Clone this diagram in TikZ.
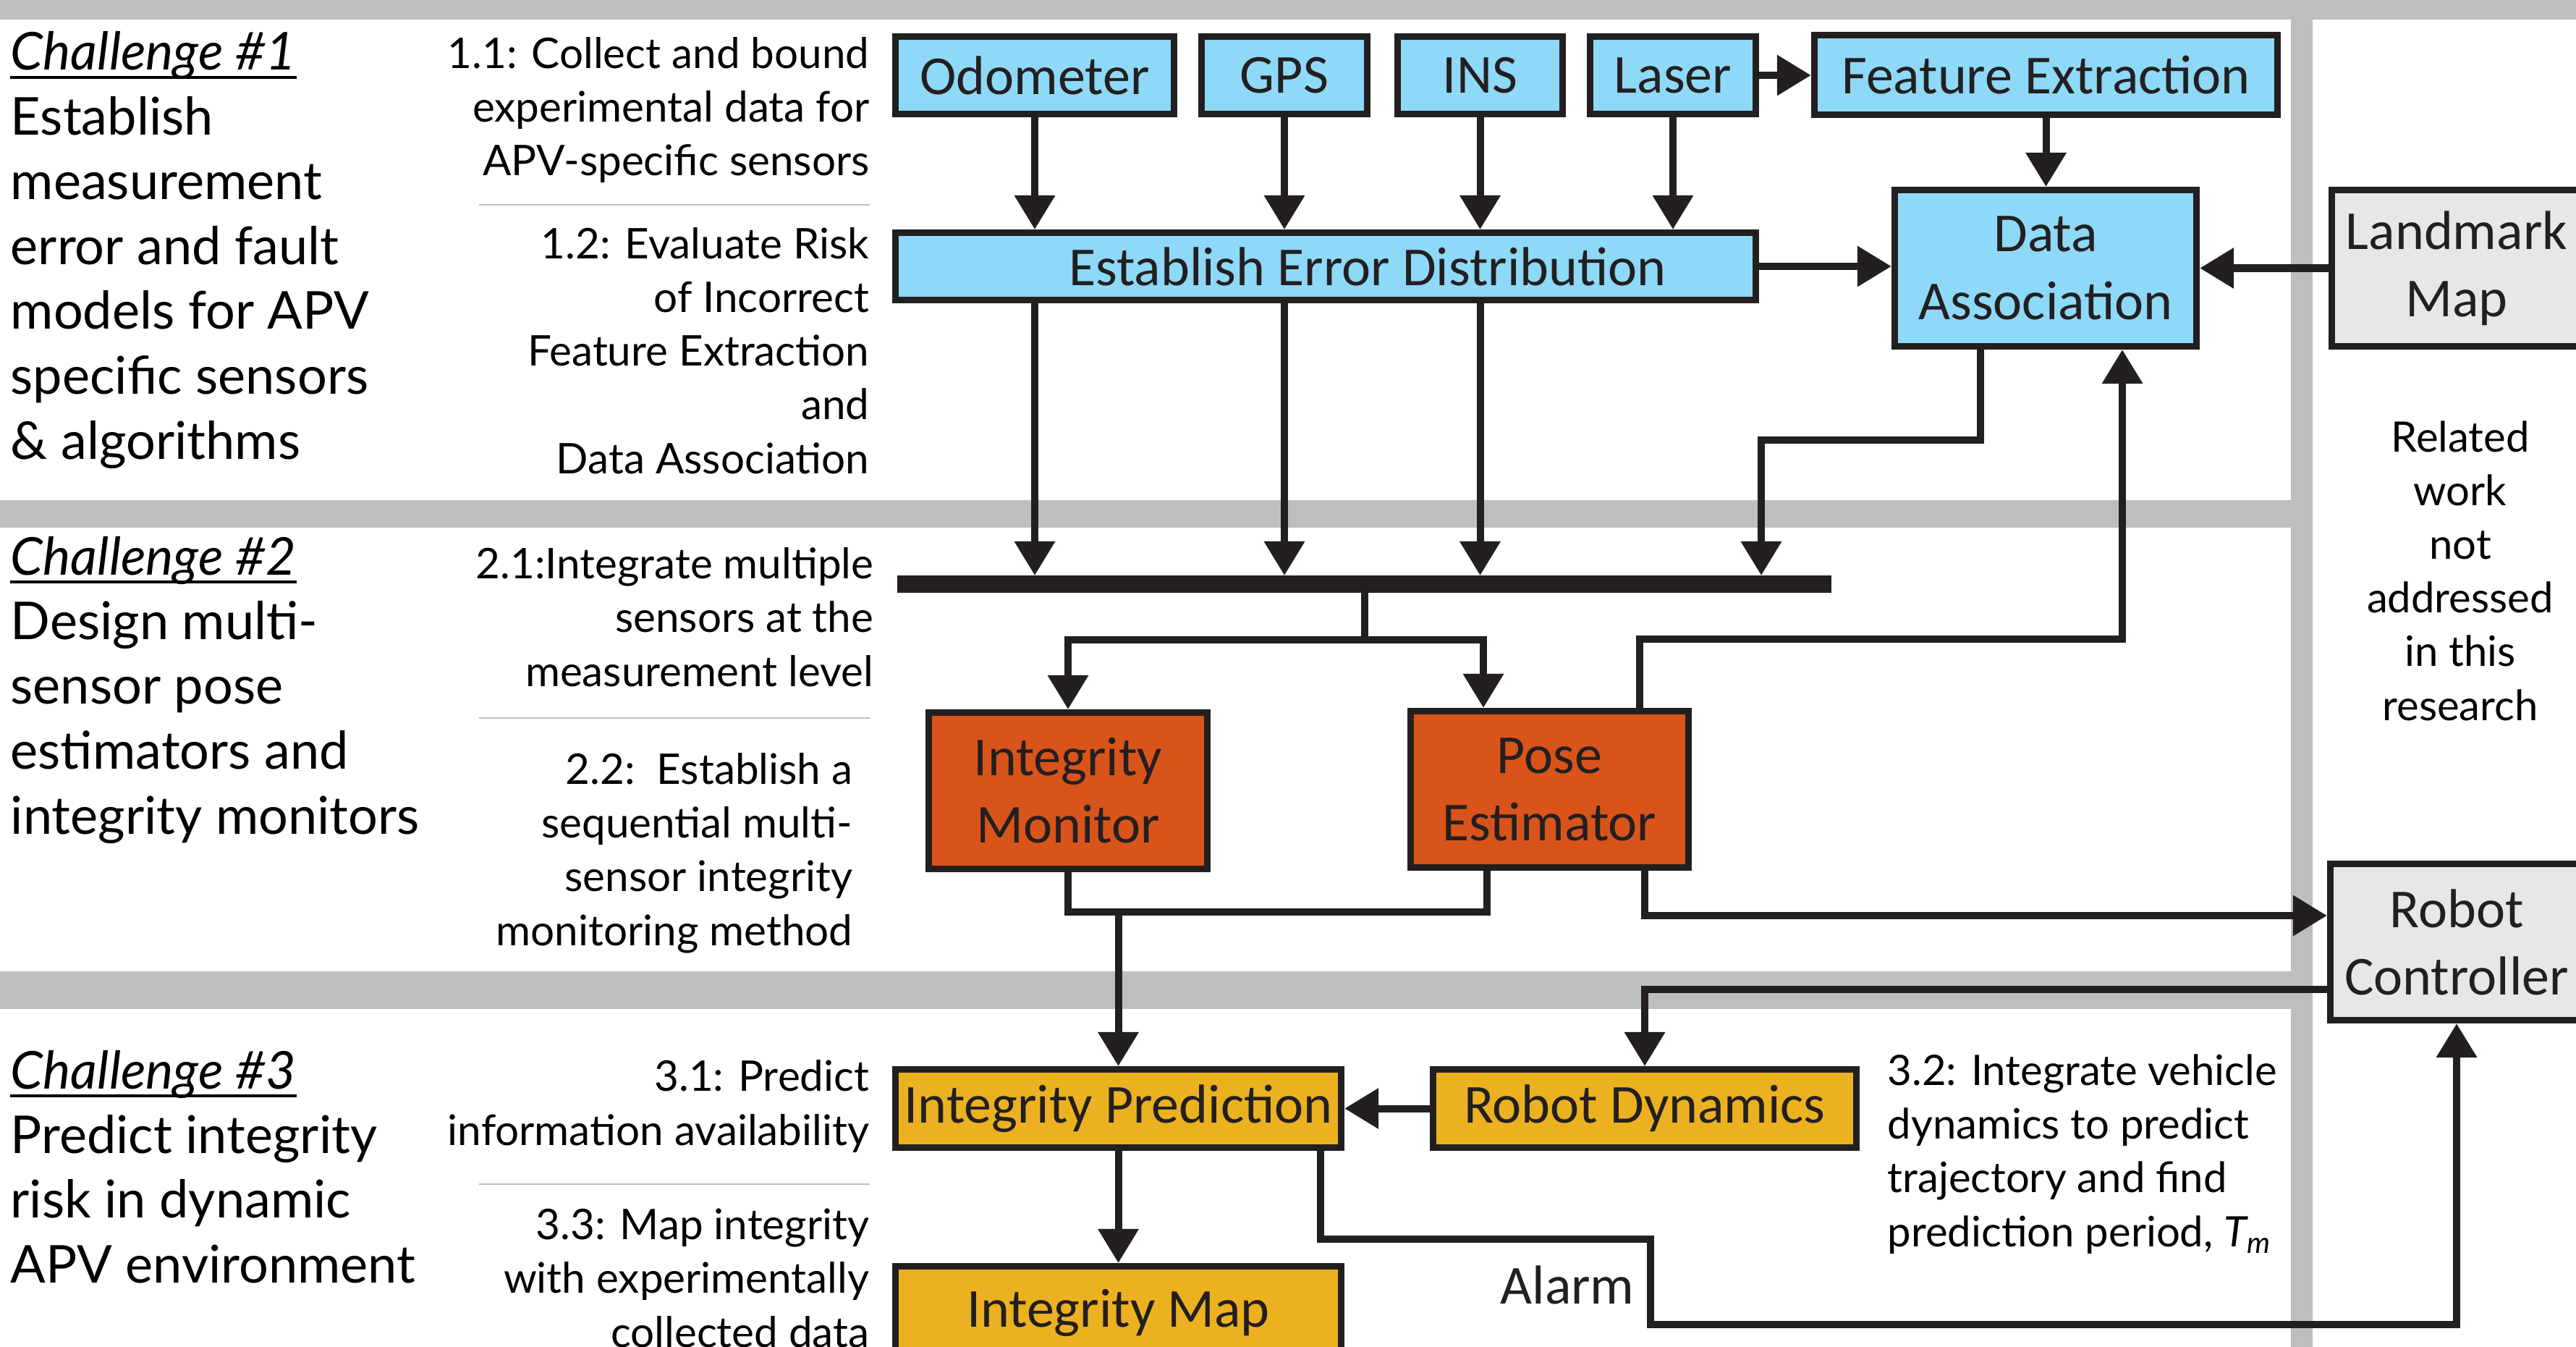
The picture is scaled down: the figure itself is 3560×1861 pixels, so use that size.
\documentclass[tikz,border=0pt]{standalone}
\usepackage{fontspec}
\setmainfont{Carlito}
\newfontfamily\humanist{Lato}
\usetikzlibrary{arrows.meta}
\definecolor{band}{HTML}{BCBEC0}
\definecolor{skyfill}{HTML}{8ED8F8}
\definecolor{rustfill}{HTML}{D9541A}
\definecolor{goldfill}{HTML}{ECB120}
\definecolor{greyfill}{HTML}{E6E7E8}
\definecolor{ink}{HTML}{231F20}
\tikzset{
  box/.style={draw=ink, line width=0.09cm, inner sep=0pt, align=center, text=ink,
    font=\fontsize{21.6}{26.5}\selectfont},
  sky/.style={box, fill=skyfill},
  rust/.style={box, fill=rustfill},
  gold/.style={box, fill=goldfill},
  grey/.style={box, fill=greyfill},
  conn/.style={draw=ink, line width=0.1cm},
  arr/.style={conn, -{Triangle[length=0.47cm, width=0.54cm]}},
  heading/.style={font=\humanist\itshape\fontsize{20.5}{25.46}\selectfont, anchor=base west, inner sep=0pt},
  bodytxt/.style={font=\humanist\fontsize{20.5}{25.46}\selectfont, align=left, anchor=base west, inner sep=0pt},
  task/.style={font=\humanist\fontsize{16.6}{21.05}\selectfont, align=right, anchor=base east, inner sep=0pt},
  note/.style={font=\humanist\fontsize{16.5}{21.05}\selectfont, inner sep=0pt},
  sepline/.style={draw=band, line width=0.02cm},
  ul/.style={draw=black, line width=0.045cm},
}
\begin{document}
\begin{tikzpicture}[x=0.01cm, y=-0.01cm]
\useasboundingbox (0,0) rectangle (3560,1861);
\clip (0,0) rectangle (3560,1861);
% grey frame with white panels for the three challenges and the side column
\fill[band] (0,0) rectangle (3560,1861);
\fill[white] (0,27) rectangle (3166,691);
\fill[white] (0,729) rectangle (3166,1342);
\fill[white] (0,1394) rectangle (3166,1861);
\fill[white] (3196,27) rectangle (3560,1861);

% sensor row
\node[sky, minimum width=3.85cm, minimum height=1.07cm] (odo) at (1430,104) {Odometer};
\node[sky, minimum width=2.29cm, minimum height=1.07cm] (gps) at (1775,104) {GPS};
\node[sky, minimum width=2.28cm, minimum height=1.07cm] (ins) at (2045.5,104) {INS};
\node[sky, minimum width=2.29cm, minimum height=1.07cm] (laser) at (2312,104) {Laser};
\node[sky, minimum width=6.40cm, minimum height=1.10cm] (fe) at (2827.5,103.5) {Feature Extraction};
\node[sky, minimum width=11.89cm, minimum height=0.93cm] (eed) at (1832,368) {\hspace*{1.16cm}Establish Error Distribution};
\node[sky, minimum width=4.17cm, minimum height=2.16cm] (da) at (2827,370.5) {Data\\Association};
\node[grey, minimum width=3.45cm, minimum height=2.16cm] (lm) at (3395,370.5) {Landmark\\Map};
% measurement bus
\node[fill=ink, inner sep=0pt, outer sep=0pt, minimum width=12.91cm, minimum height=0.24cm] (bus) at (1885.5,807) {};
% estimation and prediction blocks
\node[rust, minimum width=3.85cm, minimum height=2.16cm] (im) at (1476,1092.5) {Integrity\\Monitor};
\node[rust, minimum width=3.84cm, minimum height=2.16cm] (pe) at (2141.5,1090.5) {Pose\\Estimator};
\node[grey, minimum width=3.49cm, minimum height=2.16cm] (rc) at (3395,1301.5) {Robot\\Controller};
\node[gold, minimum width=6.16cm, minimum height=1.08cm] (ip) at (1545.5,1531.5) {Integrity Prediction};
\node[gold, minimum width=5.85cm, minimum height=1.08cm] (rd) at (2273,1531.5) {Robot Dynamics};
\node[gold, minimum width=6.16cm, minimum height=1.29cm] (imap) at (1545.5,1814) {Integrity Map};

% sensors into error distribution
\draw[arr] (odo.south) -- (odo.south |- eed.north);
\draw[arr] (gps.south) -- (gps.south |- eed.north);
\draw[arr] (ins.south) -- (ins.south |- eed.north);
\draw[arr] (laser.south) -- (laser.south |- eed.north);
\draw[arr] (laser.east) -- (fe.west |- laser.east);
\draw[arr] (fe.south) -- (fe.south |- da.north);
\draw[arr] (eed.east) -- (da.west |- eed.east);
\draw[arr] (lm.west) -- (da.east);
% error distribution and association onto the bus
\draw[arr] (eed.south -| odo.south) -- (bus.north -| odo.south);
\draw[arr] (eed.south -| gps.south) -- (bus.north -| gps.south);
\draw[arr] (eed.south -| ins.south) -- (bus.north -| ins.south);
\draw[arr] (da.south -| 2737,0) |- (2434,608) -- (2434,0 |- bus.north);
% bus to monitor and estimator
\coordinate (split) at (1885.5,884);
\draw[conn] (bus.south) -- (split);
\draw[arr] (split) -| (im.north);
\draw[arr] (split) -| (pe.north -| 2050,0);
\draw[arr] (pe.north -| 2266,0) |- (2933,883) -- (da.south -| 2933,0);
% monitor and estimator into prediction
\draw[conn] (im.south) |- (2055,1260) -- (pe.south -| 2055,0);
\coordinate (merge) at (1545.5,1260);
\draw[arr] (merge) -- (ip.north);
\draw[arr] (pe.south -| 2273,0) |- (rc.west |- 0,1265);
\draw[arr] (rc.west |- 0,1367) -| (rd.north);
\draw[arr] (rd.west) -- (ip.east);
\draw[arr] (ip.south) -- (imap.north);
\draw[arr] (ip.south -| 1825,0) |- (2281,1712) |- (rc.south |- 0,1830) -- (rc.south);
\node[anchor=base west, inner sep=0pt, text=ink, font=\fontsize{21.6}{26.5}\selectfont] (alarm) at (2073,1801) {Alarm};

% challenge 1 (multi-line nodes are anchored on their last baseline)
\node[heading] (ch1) at (14,97) {Challenge \#1};
\draw[ul] ([yshift=-0.1cm]ch1.base west) -- ([yshift=-0.1cm]ch1.base east);
\node[bodytxt] (ch1body) at (14,634) {Establish\\measurement\\error and fault\\models for APV\\specific sensors\\\& algorithms};
\node[task] (t11) at (1202,243) {1.1: Collect and bound\\experimental data for\\APV-specific sensors};
\draw[sepline] (662,283) -- (1202,283);
\node[task] (t12) at (1202,654) {1.2: Evaluate Risk\\of Incorrect\\Feature Extraction\\and\\Data Association};
% challenge 2
\node[heading] (ch2) at (14,794) {Challenge \#2};
\draw[ul] ([yshift=-0.1cm]ch2.base west) -- ([yshift=-0.1cm]ch2.base east);
\node[bodytxt] (ch2body) at (14,1152) {Design multi-\\sensor pose\\estimators and\\integrity monitors};
\node[task] (t21) at (1208,948) {2.1:Integrate multiple\\sensors at the\\measurement level};
\draw[sepline] (662,992) -- (1202,992);
\node[task] (t22) at (1179,1306) {2.2:\ \ Establish a\\sequential multi-\\sensor integrity\\monitoring method};
% challenge 3
\node[heading] (ch3) at (14,1504) {Challenge \#3};
\draw[ul] ([yshift=-0.1cm]ch3.base west) -- ([yshift=-0.1cm]ch3.base east);
\node[bodytxt] (ch3body) at (14,1772.5) {Predict integrity\\risk in dynamic\\APV environment};
\node[task] (t31) at (1202,1582) {3.1: Predict\\information availability};
\draw[sepline] (662,1636) -- (1202,1636);
\node[task] (t33) at (1202,1861) {3.3: Map integrity\\with experimentally\\collected data};
% notes
\node[note, align=left, anchor=base west] (t32) at (2608,1722) {3.2: Integrate vehicle\\dynamics to predict\\trajectory and find\\prediction period, {\itshape T}\textsubscript{\itshape m}};
\node[note, align=center, anchor=base] (rw) at (3400,995) {Related\\work\\not\\addressed\\in this\\research};
\end{tikzpicture}
\end{document}
